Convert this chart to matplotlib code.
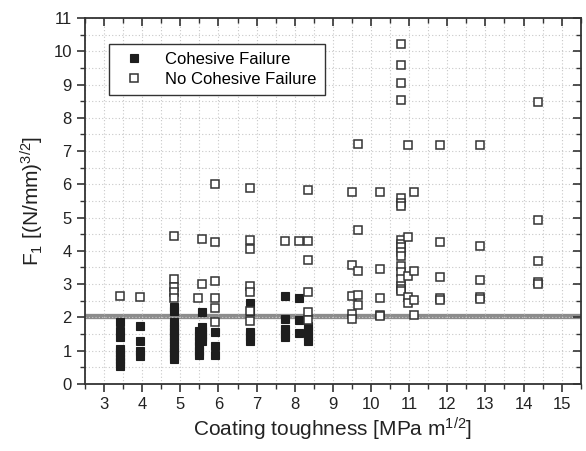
import numpy as np
import matplotlib.pyplot as plt
from matplotlib.ticker import MultipleLocator

plt.rcParams['font.family'] = ['Liberation Sans', 'DejaVu Sans']
plt.rcParams['mathtext.default'] = 'regular'

# Cohesive failure (filled squares)
coh_x = [3.42] * 9 + [3.94] * 4 + [4.83] * 14 + [5.48] * 6 + [5.58] * 6 + [5.9] * 3 \
    + [6.82] * 5 + [7.75] * 5 + [8.12] * 3 + [8.36] * 4
coh_y = [1.85, 1.6, 1.4, 1.05, 0.95, 0.85, 0.75, 0.65, 0.55,
         1.75, 1.3, 1.0, 0.85,
         2.3, 2.2, 1.85, 1.75, 1.65, 1.55, 1.45, 1.35, 1.25, 1.15, 1.05, 0.95, 0.85, 0.75,
         1.6, 1.45, 1.3, 1.15, 1.0, 0.87,
         2.17, 1.7, 1.6, 1.5, 1.4, 1.3,
         1.57, 1.15, 0.87,
         2.43, 2.2, 1.55, 1.45, 1.3,
         2.65, 1.95, 1.65, 1.5, 1.4,
         2.58, 1.93, 1.53,
         1.75, 1.6, 1.45, 1.3]

# No cohesive failure (open squares)
nocoh_x = [3.42, 3.94] + [4.83] * 5 + [5.47] + [5.57] * 2 + [5.92] * 6 + [6.82] * 7 \
    + [7.75, 8.12] + [8.36] * 6 + [9.49] * 5 + [9.65] * 5 + [10.23] * 5 + [10.78] * 18 \
    + [10.96] * 5 + [11.13] * 4 + [11.81] * 5 + [12.86] * 5 + [14.37] * 5
nocoh_y = [2.65, 2.6,
           4.43, 3.15, 2.9, 2.75, 2.57,
           2.57,
           4.35, 3.0,
           6.0, 4.25, 3.08, 2.57, 2.27, 1.87,
           5.88, 4.32, 4.05, 2.95, 2.77, 2.2, 1.88,
           4.28, 4.28,
           5.82, 4.3, 3.73, 2.75, 2.17, 1.93,
           5.77, 3.57, 2.63, 2.1, 1.95,
           7.2, 4.62, 3.4, 2.67, 2.38,
           5.77, 3.45, 2.59, 2.07, 2.03,
           10.21, 9.6, 9.05, 8.54, 5.6, 5.45, 5.35, 4.32, 4.2, 4.1, 3.95, 3.85,
           3.55, 3.35, 3.15, 2.95, 2.85, 2.78,
           7.18, 4.42, 3.25, 2.6, 2.42,
           5.77, 3.4, 2.53, 2.07,
           7.18, 4.25, 3.2, 2.57, 2.53,
           7.18, 4.15, 3.13, 2.6, 2.55,
           8.49, 4.92, 3.7, 3.05, 3.0]

threshold = 2.03

fig = plt.figure(figsize=(5.86, 4.51), dpi=100)
rect = [0.145, 0.149, 0.846, 0.811]
ax = fig.add_axes(rect)

ax.axhline(threshold, color='#8c8c8c', lw=3.8, zorder=1)

ax.plot(coh_x, coh_y, ls='none', marker='s', ms=5.6, mfc='#1e1e1e', mec='#1e1e1e',
        mew=0.8, label='Cohesive Failure', zorder=3)
ax.plot(nocoh_x, nocoh_y, ls='none', marker='s', ms=5.6, mfc='white', mec='#333333',
        mew=1.1, label='No Cohesive Failure', zorder=3)

# overlay axes for inward ticks on top and right
ax2 = fig.add_axes(rect, frameon=False)
ax2.patch.set_visible(False)

for a in (ax, ax2):
    a.set_xlim(2.5, 15.5)
    a.set_ylim(0, 11)
    for axis in (a.xaxis, a.yaxis):
        axis.set_major_locator(MultipleLocator(1))
        axis.set_minor_locator(MultipleLocator(0.5))

ax.grid(True, which='both', color='#c8c8c8', ls=(0, (1, 2)), lw=0.8, zorder=0)

for s in ax.spines.values():
    s.set_color('#333333')
    s.set_linewidth(1.3)

ax.tick_params(which='major', direction='out', length=6, width=1.2, colors='#333333',
               labelsize=12, labelcolor='#222222')
ax.tick_params(which='minor', direction='out', length=3.5, width=1.0, colors='#333333')

ax2.tick_params(which='both', direction='in', colors='#333333', bottom=False, left=False,
                top=True, right=True, labelbottom=False, labelleft=False,
                labeltop=False, labelright=False)
ax2.tick_params(which='major', length=6, width=1.2)
ax2.tick_params(which='minor', length=3.5, width=1.0)

ax.set_xlabel('Coating toughness [MPa m$^{1/2}$]', fontsize=15, color='#222222', labelpad=3)
ax.set_ylabel('F$_1$ [(N/mm)$^{3/2}$]', fontsize=15, color='#222222', labelpad=5)

leg = ax.legend(loc='upper left', bbox_to_anchor=(0.048, 0.93), borderaxespad=0,
                fontsize=12, frameon=True, fancybox=False, edgecolor='#333333',
                framealpha=1, handletextpad=0.9, borderpad=0.5, labelspacing=0.3,
                markerscale=1.0)
leg.get_frame().set_linewidth(1.0)
leg.set_zorder(5)

fig.savefig('out.png', dpi=100)
